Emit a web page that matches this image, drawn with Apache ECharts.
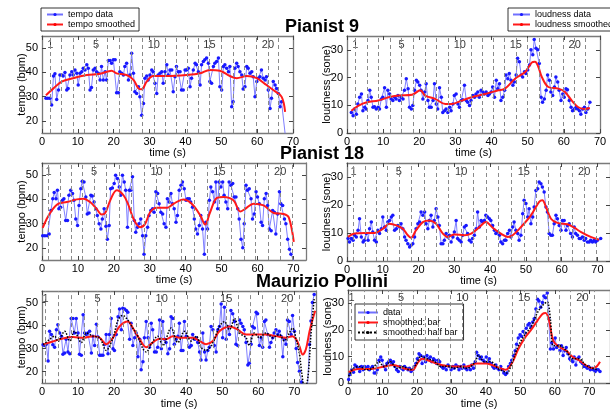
<!DOCTYPE html>
<html><head><meta charset="utf-8">
<script src="https://cdn.jsdelivr.net/npm/echarts@6/dist/echarts.min.js"></script>
<style>html,body{margin:0;padding:0;background:#fff}#c{width:610px;height:410px}</style>
</head><body><div id="c"></div>
<script>
// ---------------- DATA ----------------
const xTickValues = [0,10,20,30,40,50,60,70];
const tempoTicks = [20,30,40,50];
const loudTicks = [0,10,20,30];
const labeledBars = [1,5,10,15,20];

// bar-line times (s)
const p9Bars = [2.3,5.5,8.7,11.9,15.1,18.3,21.6,24.8,28.0,31.2,34.3,37.4,40.5,43.6,46.7,50.0,53.2,56.5,59.7,63.0,66.0];
const p18Bars = [1.8,5.0,8.1,11.3,14.5,18.0,21.5,24.9,28.4,31.9,35.4,38.9,42.4,45.9,49.4,52.8,56.2,59.5,62.9,66.3,69.7];
const pollBars = [1.0,4.6,8.2,11.8,15.4,19.0,22.5,26.1,29.6,33.2,36.8,40.4,43.9,47.5,51.1,54.5,57.8,61.2,64.6,68.0,71.4];

// Pianist 9
const p9TempoData = [[1.1,29.3],[1.6,29.3],[2.2,29.3],[2.7,26.5],[3.2,38.5],[3.6,39.4],[4.1,28.8],[4.6,32.7],[5.0,38.9],[5.5,38.9],[5.9,38.5],[6.4,39.9],[6.9,32.7],[7.3,33.4],[7.8,38.9],[8.3,40.3],[8.7,38.9],[9.2,41.0],[9.7,39.6],[10.1,34.8],[10.6,39.6],[11.1,40.3],[11.5,41.7],[12.0,41.0],[12.5,43.1],[12.9,41.7],[13.4,32.7],[13.8,33.8],[14.3,41.0],[14.8,41.7],[15.2,40.3],[15.7,39.6],[16.2,36.9],[16.6,42.4],[17.1,36.9],[17.6,40.3],[18.0,36.9],[18.5,44.9],[19.0,44.9],[19.4,43.8],[19.9,45.2],[20.4,45.2],[20.8,31.6],[21.3,31.6],[21.7,40.3],[22.2,39.6],[22.7,38.9],[23.1,42.4],[23.6,43.8],[24.1,36.9],[24.5,38.9],[25.0,47.9],[25.5,39.6],[25.9,32.0],[26.4,31.3],[26.9,34.1],[27.3,29.9],[27.8,22.3],[28.3,27.2],[28.7,37.6],[29.2,38.5],[29.6,36.9],[30.1,38.9],[30.6,41.0],[31.0,40.3],[31.5,35.5],[32.0,31.3],[32.4,38.9],[32.9,39.6],[33.4,40.3],[33.8,35.5],[34.3,40.3],[34.8,43.1],[35.2,38.9],[35.7,41.0],[36.2,41.0],[36.6,32.0],[37.1,38.2],[37.5,42.4],[38.0,40.3],[38.5,40.3],[38.9,32.7],[39.4,32.7],[39.9,41.0],[40.3,41.0],[40.8,41.7],[41.3,34.1],[41.7,37.6],[42.2,41.0],[42.7,43.8],[43.1,43.1],[43.6,40.3],[44.1,34.8],[44.5,43.1],[45.0,44.5],[45.4,45.2],[45.9,45.9],[46.4,43.8],[46.8,36.2],[47.3,35.5],[47.8,42.4],[48.2,43.8],[48.7,44.5],[49.2,45.9],[49.6,34.1],[50.1,32.7],[50.6,42.4],[51.0,43.1],[51.5,41.7],[52.0,40.3],[52.4,42.4],[52.9,25.8],[53.3,27.9],[53.8,41.7],[54.3,43.8],[54.7,42.4],[55.2,40.3],[55.7,38.9],[56.1,33.1],[56.6,34.1],[57.1,42.4],[57.5,41.7],[58.0,39.6],[58.5,40.3],[58.9,38.2],[59.4,29.9],[59.9,36.2],[60.3,37.6],[60.8,38.2],[61.2,41.0],[61.7,37.6],[62.2,36.9],[62.6,38.2],[63.1,32.7],[63.6,25.1],[64.0,29.3],[64.5,36.2],[65.0,34.8],[65.4,33.4],[65.9,31.3],[66.4,25.8],[66.8,27.9],[67.8,14.7]];
const p9TempoSmooth = [[1.1,30.6],[3.2,33.4],[5.5,36.2],[8.7,37.6],[12.5,38.9],[16.2,39.4],[19.4,40.7],[20.8,39.6],[23.6,38.9],[25.5,36.9],[26.9,33.4],[27.8,33.0],[29.2,36.2],[31.0,38.5],[34.8,38.5],[40.3,38.9],[44.1,39.6],[46.8,41.0],[49.6,40.7],[52.4,38.5],[54.3,37.6],[57.1,38.5],[59.9,37.6],[62.6,34.8],[64.5,32.7],[66.8,30.0],[67.8,23.7]];
const p9LoudData = [[1.2,7.4],[1.7,6.2],[2.1,8.7],[2.6,6.8],[3.0,10.5],[3.5,12.9],[4.0,14.1],[4.4,8.0],[4.9,9.3],[5.3,8.7],[5.8,11.7],[6.3,15.4],[6.7,12.9],[7.2,9.3],[7.6,9.5],[8.1,8.7],[8.6,9.3],[9.0,8.7],[9.5,12.3],[9.9,12.9],[10.4,16.3],[10.9,9.3],[11.3,15.4],[11.8,14.1],[12.2,12.3],[12.7,11.7],[13.2,12.9],[13.6,12.3],[14.1,13.5],[14.5,11.7],[15.0,12.9],[15.5,12.3],[15.9,15.4],[16.4,19.6],[16.9,16.0],[17.3,9.3],[17.8,8.7],[18.2,9.9],[18.7,15.4],[19.2,19.0],[19.6,18.4],[20.1,17.2],[20.5,15.4],[21.0,12.3],[21.5,14.8],[21.9,17.8],[22.4,11.7],[22.8,9.3],[23.3,9.3],[23.8,11.7],[24.2,17.8],[24.7,10.5],[25.1,8.7],[25.6,16.3],[26.1,12.9],[26.5,7.4],[27.0,8.0],[27.4,8.7],[27.9,7.4],[28.4,9.3],[28.8,8.0],[29.3,10.5],[29.7,13.5],[30.2,14.1],[30.7,10.5],[31.1,9.3],[31.6,11.7],[32.0,12.0],[32.5,17.2],[33.0,11.7],[33.4,11.1],[33.9,9.9],[34.3,11.7],[34.8,13.5],[35.3,12.9],[35.7,14.1],[36.2,14.8],[36.6,12.9],[37.1,15.4],[37.6,14.8],[38.0,14.1],[38.5,14.8],[39.0,13.5],[39.4,14.1],[39.9,14.8],[40.3,16.6],[40.8,12.9],[41.3,19.0],[41.7,16.0],[42.2,17.8],[42.6,11.7],[43.1,12.9],[43.6,15.4],[44.0,20.9],[44.5,19.6],[44.9,21.5],[45.4,19.0],[45.9,17.2],[46.3,18.4],[46.8,20.9],[47.2,27.0],[47.7,25.7],[48.2,20.9],[48.6,20.2],[49.1,22.1],[49.5,21.5],[50.0,22.7],[50.5,24.5],[50.9,30.0],[51.4,28.2],[51.8,33.7],[52.3,30.6],[52.8,30.0],[53.2,25.1],[53.7,12.9],[54.1,11.1],[54.6,12.3],[55.1,15.4],[55.5,20.9],[56.0,19.0],[56.4,14.8],[56.9,13.5],[57.4,16.6],[57.8,20.2],[58.3,18.4],[58.7,15.4],[59.2,11.7],[59.7,14.1],[60.1,12.9],[60.6,16.0],[61.0,15.6],[61.5,11.7],[62.0,9.3],[62.4,8.0],[62.9,8.7],[63.4,9.3],[63.8,8.7],[64.3,8.0],[64.7,6.8],[65.2,8.7],[65.7,9.3],[66.1,7.4],[66.6,8.7],[67.2,11.1]];
const p9LoudSmooth = [[1.2,8.0],[3.2,9.9],[5.5,11.1],[8.7,11.7],[11.5,12.9],[14.3,13.5],[18.0,13.8],[20.3,15.4],[21.6,13.5],[24.4,12.3],[27.2,10.5],[29.0,10.5],[31.8,11.7],[34.5,12.9],[38.2,14.1],[41.9,15.4],[43.7,16.0],[46.5,19.6],[49.3,22.0],[51.1,25.4],[52.0,25.7],[52.9,24.0],[53.9,20.2],[55.7,16.6],[58.5,16.0],[60.3,14.8],[62.2,11.7],[64.0,9.3],[65.8,8.7],[67.2,9.0]];

// Pianist 18
const p18TempoData = [[0.2,25.0],[0.8,25.0],[1.5,25.0],[2.0,25.7],[2.5,35.4],[3.0,40.3],[3.4,42.8],[3.9,40.3],[4.3,43.8],[4.7,36.1],[5.2,36.8],[5.7,39.6],[6.1,40.3],[6.6,31.3],[7.1,31.3],[7.5,41.7],[8.0,43.8],[8.5,42.4],[8.9,39.6],[9.4,31.9],[9.9,29.2],[10.3,37.5],[10.8,44.4],[11.2,47.5],[11.7,47.2],[12.2,41.0],[12.6,34.0],[13.1,34.4],[13.6,41.7],[14.0,41.4],[14.5,38.9],[15.0,36.1],[15.4,33.3],[15.9,29.9],[16.4,27.8],[16.8,31.9],[17.3,36.1],[17.8,28.9],[18.2,23.6],[18.7,29.2],[19.1,44.4],[19.6,44.7],[20.1,46.5],[20.5,50.0],[21.0,48.6],[21.5,45.1],[21.9,41.7],[22.4,50.0],[22.9,47.2],[23.3,43.8],[23.8,28.5],[24.3,43.8],[24.7,43.8],[25.2,49.3],[25.7,31.3],[26.1,26.4],[26.6,28.5],[27.0,29.9],[27.5,31.9],[28.0,25.0],[28.4,17.4],[28.9,25.0],[29.4,28.5],[29.8,33.3],[30.3,35.4],[30.8,36.1],[31.2,34.7],[31.7,43.1],[32.2,42.4],[32.6,38.2],[33.1,34.7],[33.6,34.0],[34.0,29.9],[34.5,28.5],[34.9,40.3],[35.4,38.9],[35.9,42.4],[36.3,38.2],[36.8,36.1],[37.3,30.6],[37.7,33.3],[38.2,43.8],[38.7,45.8],[39.1,47.2],[39.6,44.4],[40.1,39.6],[40.5,40.3],[41.0,40.3],[41.4,38.9],[41.9,36.8],[42.4,31.9],[42.8,27.8],[43.3,25.7],[43.8,29.2],[44.2,33.3],[44.7,27.8],[45.2,17.4],[45.6,30.6],[46.1,27.8],[46.6,39.6],[47.0,45.1],[47.5,43.1],[48.0,38.9],[48.4,47.2],[48.9,36.1],[49.3,47.2],[49.8,45.1],[50.3,47.2],[50.7,41.7],[51.2,38.9],[51.7,36.1],[52.1,47.2],[52.6,45.8],[53.1,46.5],[53.5,41.0],[54.0,41.0],[54.5,36.1],[54.9,31.9],[55.4,23.6],[55.9,20.1],[56.3,29.9],[56.8,45.8],[57.2,43.8],[57.7,44.4],[58.2,40.3],[58.6,31.9],[59.1,34.0],[59.6,43.1],[60.0,41.0],[60.5,38.2],[61.0,30.6],[61.4,29.2],[61.9,40.3],[62.4,42.4],[62.8,37.5],[63.3,27.8],[63.8,27.1],[64.2,35.4],[64.7,34.7],[65.1,25.7],[65.6,34.0],[66.1,43.1],[66.5,38.2],[67.0,37.5],[67.5,31.9],[67.9,29.9],[68.4,23.6],[68.9,19.4],[69.3,17.4],[70.1,14.6]];
const p18TempoSmooth = [[0.2,28.2],[1.3,31.9],[2.7,35.4],[4.6,38.2],[6.9,38.9],[9.7,40.0],[11.5,40.3],[13.4,38.9],[15.2,36.1],[16.6,33.8],[17.6,34.4],[19.0,39.6],[20.8,43.8],[22.7,41.7],[24.1,37.5],[25.5,31.9],[27.3,28.5],[28.7,29.9],[30.1,34.7],[32.0,36.5],[34.8,36.5],[36.6,38.2],[39.4,40.0],[41.7,38.2],[44.1,33.3],[45.4,29.6],[46.8,34.7],[48.7,40.6],[50.6,41.0],[53.3,39.6],[55.2,35.0],[56.6,36.1],[58.9,38.2],[61.7,37.5],[64.5,34.4],[67.3,34.0],[68.7,32.6],[70.1,22.5]];
const p18LoudData = [[0.3,8.0],[0.7,6.8],[1.2,8.0],[1.7,7.4],[2.1,9.2],[2.6,8.6],[3.1,11.0],[3.5,15.1],[4.0,8.6],[4.5,6.8],[4.9,7.4],[5.4,9.8],[5.9,7.4],[6.3,11.5],[6.8,13.9],[7.2,10.4],[7.7,7.4],[8.2,6.8],[8.6,11.0],[9.1,9.8],[9.6,11.5],[10.0,15.7],[10.5,12.1],[11.0,11.0],[11.4,13.9],[11.9,14.5],[12.4,15.7],[12.8,16.3],[13.3,11.0],[13.8,11.5],[14.2,12.7],[14.7,12.1],[15.1,13.3],[15.6,11.5],[16.1,8.6],[16.5,7.4],[17.0,6.2],[17.5,5.0],[17.9,5.6],[18.4,6.2],[18.9,8.6],[19.3,11.5],[19.8,13.3],[20.3,13.9],[20.7,17.5],[21.2,16.3],[21.7,17.5],[22.1,13.3],[22.6,11.5],[23.0,14.5],[23.5,16.3],[24.0,12.1],[24.4,14.5],[24.9,18.7],[25.4,15.7],[25.8,12.7],[26.3,6.2],[26.8,6.2],[27.2,7.4],[27.7,9.8],[28.2,8.6],[28.6,9.2],[29.1,6.8],[29.6,8.6],[30.0,10.4],[30.5,14.5],[30.9,8.0],[31.4,7.4],[31.9,6.8],[32.3,9.2],[32.8,12.1],[33.3,12.7],[33.7,9.8],[34.2,7.4],[34.7,6.8],[35.1,8.0],[35.6,9.2],[36.1,11.5],[36.5,17.5],[37.0,12.1],[37.5,14.5],[37.9,13.9],[38.4,14.5],[38.8,16.3],[39.3,15.7],[39.8,15.1],[40.2,14.5],[40.7,12.7],[41.2,11.0],[41.6,9.8],[42.1,10.4],[42.6,9.2],[43.0,6.8],[43.5,6.2],[44.0,7.4],[44.4,7.4],[44.9,9.8],[45.4,11.0],[45.8,8.6],[46.3,12.1],[46.7,13.9],[47.2,11.0],[47.7,9.8],[48.1,7.4],[48.6,9.2],[49.1,16.9],[49.5,21.7],[50.0,20.5],[50.5,15.7],[50.9,18.7],[51.4,13.3],[51.9,15.7],[52.3,19.3],[52.8,25.2],[53.3,25.8],[53.7,28.2],[54.2,27.6],[54.6,26.4],[55.1,24.6],[55.6,19.3],[56.0,17.5],[56.5,9.8],[57.0,9.2],[57.4,9.2],[57.9,13.3],[58.4,16.3],[58.8,15.1],[59.3,12.7],[59.8,11.0],[60.2,14.5],[60.7,14.5],[61.2,11.0],[61.6,12.7],[62.1,13.3],[62.5,9.8],[63.0,8.6],[63.5,12.1],[63.9,9.8],[64.4,9.2],[64.9,8.0],[65.3,8.0],[65.8,8.6],[66.3,7.4],[66.7,8.0],[67.2,6.8],[67.7,6.8],[68.1,7.4],[68.6,6.8],[69.1,7.4],[69.5,6.8],[70.0,7.4],[70.9,8.0]];
const p18LoudSmooth = [[0.3,8.6],[2.1,9.8],[4.9,10.0],[7.7,10.0],[10.0,11.5],[11.9,13.3],[13.8,12.7],[15.6,11.5],[17.0,9.2],[17.9,8.3],[19.3,11.0],[21.2,13.9],[23.0,14.5],[24.9,13.3],[26.8,9.8],[28.2,8.6],[30.0,9.5],[32.8,9.2],[34.7,9.8],[37.0,12.1],[38.8,13.9],[40.7,11.9],[43.0,9.8],[44.9,8.6],[46.3,9.2],[48.6,12.1],[51.4,16.3],[53.7,21.1],[54.6,21.7],[55.6,19.3],[57.0,15.1],[58.8,13.6],[61.6,13.1],[63.5,11.9],[65.3,10.4],[68.1,8.6],[70.4,7.6]];

// Maurizio Pollini
const pollTempoData = [[0.3,31.7],[0.7,31.3],[1.2,31.9],[1.7,24.6],[2.1,37.5],[2.6,36.1],[3.0,31.7],[3.5,30.6],[4.0,38.2],[4.4,40.3],[4.9,36.8],[5.4,35.4],[5.8,27.5],[6.3,28.1],[6.7,34.0],[7.2,28.5],[7.7,27.8],[8.1,43.1],[8.6,43.1],[9.0,36.8],[9.5,43.1],[10.0,36.8],[10.4,27.5],[10.9,27.1],[11.4,44.7],[11.8,36.8],[12.3,36.1],[12.7,36.8],[13.2,37.5],[13.7,28.1],[14.1,35.4],[14.6,31.3],[15.1,40.6],[15.5,35.0],[16.0,27.1],[16.4,27.1],[16.9,27.1],[17.4,31.9],[17.8,36.1],[18.3,27.8],[18.7,36.1],[19.2,43.1],[19.7,29.9],[20.1,29.2],[20.6,36.1],[21.1,43.8],[21.5,47.2],[22.0,38.2],[22.4,47.5],[22.9,47.2],[23.4,46.5],[23.8,45.8],[24.3,34.0],[24.7,41.0],[25.2,31.3],[25.7,34.7],[26.1,36.8],[26.6,26.4],[27.1,34.0],[27.5,20.8],[28.0,24.3],[28.4,34.7],[28.9,41.7],[29.4,34.7],[29.8,30.6],[30.3,41.0],[30.7,38.2],[31.2,28.5],[31.7,28.5],[32.1,30.6],[32.6,42.4],[33.1,29.9],[33.5,41.7],[34.0,34.0],[34.4,32.6],[34.9,27.8],[35.4,29.9],[35.8,43.8],[36.3,43.1],[36.7,31.9],[37.2,34.0],[37.7,35.4],[38.1,41.0],[38.6,29.2],[39.1,29.2],[39.5,41.7],[40.0,35.4],[40.4,34.7],[40.9,30.6],[41.4,31.3],[41.8,36.1],[42.3,34.0],[42.8,34.7],[43.2,32.6],[43.7,28.5],[44.1,25.0],[44.6,36.8],[45.1,28.5],[45.5,25.0],[46.0,29.2],[46.4,30.6],[46.9,39.6],[47.4,38.2],[47.8,31.3],[48.3,28.5],[48.8,38.2],[49.2,39.6],[49.7,49.3],[50.1,34.7],[50.6,47.9],[51.1,34.0],[51.5,39.6],[52.0,36.1],[52.4,46.5],[52.9,45.1],[53.4,41.7],[53.8,31.9],[54.3,31.3],[54.8,42.4],[55.2,41.0],[55.7,39.6],[56.1,38.2],[56.6,32.6],[57.1,22.9],[57.5,23.6],[58.0,31.9],[58.4,39.6],[58.9,38.9],[59.4,45.8],[59.8,45.1],[60.3,31.3],[60.8,34.7],[61.2,30.6],[61.7,41.7],[62.1,42.4],[62.6,36.1],[63.1,30.6],[63.5,32.6],[64.0,34.7],[64.4,36.8],[64.9,38.2],[65.4,36.1],[65.8,37.5],[66.3,35.4],[66.8,26.4],[67.2,34.0],[67.7,31.9],[68.1,42.4],[68.6,41.7],[69.1,36.1],[69.5,44.4],[70.0,37.5],[70.5,30.0],[70.9,24.0],[71.4,20.1],[72.0,15.5],[72.8,12.0],[73.6,12.0],[74.2,31.8],[74.6,42.0],[75.0,50.0],[75.5,53.5]];
const pollTempoBar = [[0.3,31.7],[3.0,33.1],[5.8,34.4],[8.6,35.0],[11.4,34.7],[14.1,35.4],[16.0,34.7],[17.8,31.9],[19.7,34.7],[21.5,39.6],[23.8,41.7],[25.2,38.9],[27.1,34.0],[28.9,30.6],[30.7,32.6],[32.6,34.3],[34.4,34.0],[36.3,35.4],[38.1,34.7],[41.8,34.7],[43.7,33.3],[45.5,31.9],[47.4,33.3],[49.2,37.5],[52.0,39.6],[54.3,38.2],[56.6,36.1],[59.4,36.1],[62.1,36.1],[64.9,35.4],[67.7,34.7],[69.5,35.4],[70.5,34.0],[71.4,31.0],[72.3,27.4],[73.2,29.7],[74.2,37.4],[75.1,42.9],[75.8,46.4]];
const pollTempoHalf = [[0.3,31.7],[2.1,34.0],[3.5,35.4],[4.4,33.1],[6.3,37.5],[7.7,33.3],[9.0,37.5],[10.9,32.6],[12.3,36.8],[14.1,35.4],[16.0,34.7],[17.8,29.2],[19.7,34.7],[21.1,42.4],[22.4,44.4],[23.8,42.4],[25.2,38.9],[26.6,35.4],[28.0,29.9],[28.9,28.5],[30.3,31.9],[32.1,35.4],[33.5,31.3],[35.8,38.9],[37.7,32.6],[39.5,37.5],[41.4,33.3],[42.8,35.4],[44.1,30.6],[45.5,29.2],[47.4,32.6],[49.2,39.6],[50.6,41.7],[52.0,38.2],[53.4,43.1],[54.8,36.8],[56.6,34.7],[57.5,31.3],[58.9,36.8],[60.3,34.7],[62.1,36.8],[64.0,34.7],[65.8,36.1],[67.2,33.3],[68.6,36.8],[69.5,38.9],[70.5,34.0],[71.4,27.8],[72.0,20.0],[72.9,12.0],[73.8,18.0],[74.6,36.0],[75.5,52.0]];
const pollLoudData = [[0.2,1.4],[0.6,3.2],[1.1,5.0],[1.6,4.1],[2.0,6.8],[2.5,6.2],[3.0,5.6],[3.4,4.4],[3.9,6.2],[4.4,5.0],[4.8,6.2],[5.3,5.6],[5.8,6.2],[6.2,5.0],[6.7,5.6],[7.1,6.2],[7.6,3.8],[8.1,3.8],[8.5,5.0],[9.0,8.6],[9.5,9.8],[9.9,8.6],[10.4,6.2],[10.9,5.0],[11.3,7.4],[11.8,8.0],[12.3,8.6],[12.7,7.4],[13.2,8.0],[13.6,6.2],[14.1,5.0],[14.6,4.4],[15.0,6.2],[15.5,5.6],[16.0,5.0],[16.4,6.2],[16.9,5.6],[17.4,5.0],[17.8,5.6],[18.3,4.4],[18.8,5.0],[19.2,6.2],[19.7,7.4],[20.1,9.2],[20.6,11.0],[21.1,10.4],[21.5,7.4],[22.0,9.8],[22.5,8.0],[22.9,10.4],[23.4,9.2],[23.9,9.8],[24.3,8.0],[24.8,9.2],[25.3,8.6],[25.7,7.4],[26.2,8.6],[26.6,8.0],[27.1,6.2],[27.6,5.6],[28.0,6.2],[28.5,5.0],[29.0,6.8],[29.4,6.2],[29.9,5.0],[30.4,6.2],[30.8,5.6],[31.3,6.8],[31.8,6.2],[32.2,5.0],[32.7,6.2],[33.1,5.6],[33.6,6.8],[34.1,5.6],[34.5,5.0],[35.0,6.2],[35.5,5.0],[35.9,6.8],[36.4,5.6],[36.9,8.0],[37.3,11.6],[37.8,10.4],[38.3,9.2],[38.7,9.8],[39.2,8.6],[39.6,8.0],[40.1,9.8],[40.6,8.0],[41.0,9.2],[41.5,7.4],[42.0,6.2],[42.4,5.6],[42.9,6.8],[43.4,5.6],[43.8,5.0],[44.3,6.2],[44.8,5.0],[45.2,3.8],[45.7,3.2],[46.1,3.8],[46.6,6.2],[47.1,7.4],[47.5,8.6],[48.0,10.4],[48.5,12.2],[48.9,14.6],[49.4,17.0],[49.9,18.2],[50.3,17.6],[50.8,19.4],[51.3,18.8],[51.7,20.6],[52.2,21.8],[52.6,22.4],[53.1,21.2],[53.6,23.0],[54.0,24.2],[54.5,27.9],[55.0,31.5],[55.4,30.9],[55.9,28.5],[56.4,30.3],[56.8,32.7],[57.3,32.1],[57.8,33.9],[58.2,24.2],[58.7,12.8],[59.1,15.2],[59.6,12.8],[60.1,17.0],[60.5,13.4],[61.0,14.0],[61.5,12.2],[61.9,14.0],[62.4,10.4],[62.9,12.2],[63.3,13.4],[63.8,11.0],[64.3,9.2],[64.7,8.6],[65.2,8.0],[65.6,9.8],[66.1,6.8],[66.6,9.2],[67.0,9.8],[67.5,8.0],[68.0,7.4],[68.4,6.2],[68.9,6.2],[69.4,5.6],[69.8,6.2],[70.3,5.0],[70.8,5.6],[71.2,5.0],[71.7,4.4],[72.1,5.0],[72.6,5.0],[73.1,4.4]];
const pollLoudBar = [[0.2,4.1],[3.0,5.3],[6.7,5.3],[10.4,6.2],[13.2,6.8],[16.0,5.6],[18.8,5.0],[20.1,7.4],[21.5,9.2],[24.3,8.0],[27.1,6.8],[30.8,6.2],[34.5,6.2],[37.3,7.4],[40.1,7.4],[42.9,6.2],[45.7,5.0],[47.5,7.4],[49.4,12.8],[51.3,17.0],[53.1,20.0],[55.0,23.6],[56.4,26.0],[57.3,26.4],[58.2,24.2],[59.6,15.8],[61.5,13.4],[63.3,12.2],[65.2,9.8],[67.0,8.6],[68.9,6.8],[70.8,5.6],[72.1,6.2],[73.1,8.0]];
const pollLoudHalf = [[0.2,2.6],[1.6,5.6],[3.4,6.2],[5.3,5.0],[7.1,5.6],[9.0,8.0],[10.4,6.2],[12.3,8.0],[14.1,5.6],[16.0,6.2],[17.8,5.0],[19.7,6.8],[21.1,10.1],[22.9,9.2],[24.8,8.4],[27.1,6.2],[29.0,6.4],[30.8,5.6],[32.7,6.2],[34.5,5.6],[36.9,8.0],[37.8,10.4],[39.6,8.0],[41.5,8.0],[43.4,5.6],[45.2,4.4],[46.1,3.8],[47.5,7.4],[49.4,14.0],[51.3,18.2],[53.1,21.2],[55.0,26.6],[56.8,29.7],[57.8,30.5],[58.7,24.2],[59.6,14.0],[61.5,14.0],[63.3,12.2],[65.2,9.2],[67.0,9.2],[68.9,6.8],[70.8,5.6],[72.6,5.0]];

// ---------------- LAYOUT ----------------
const FONT = '"Liberation Sans", Arial, Helvetica, sans-serif';
const panels = [
  {grid:{left:42,top:36,width:251,height:97}, xMax:70, yMin:15, yMax:55, yTicks:tempoTicks, yName:'tempo (bpm)', bars:p9Bars,
   data:p9TempoData, bar:p9TempoSmooth, half:null, names:['tempo data','tempo smoothed']},
  {grid:{left:347,top:36,width:253,height:97}, xMax:70, yMin:0, yMax:35, yTicks:loudTicks, yName:'loudness (sone)', bars:p9Bars,
   data:p9LoudData, bar:p9LoudSmooth, half:null, names:['loudness data','loudness smoothed']},
  {grid:{left:42,top:163,width:264,height:97}, xMax:73.5, yMin:15, yMax:55, yTicks:tempoTicks, yName:'tempo (bpm)', bars:p18Bars,
   data:p18TempoData, bar:p18TempoSmooth, half:null, names:['p18 tempo data','p18 tempo smoothed']},
  {grid:{left:347,top:163,width:264,height:98}, xMax:73.5, yMin:0, yMax:35, yTicks:loudTicks, yName:'loudness (sone)', bars:p18Bars,
   data:p18LoudData, bar:p18LoudSmooth, half:null, names:['p18 loudness data','p18 loudness smoothed']},
  {grid:{left:42,top:291,width:274,height:96}, xMax:76, yMin:15, yMax:55, yTicks:tempoTicks, yName:'tempo (bpm)', bars:pollBars,
   data:pollTempoData, bar:pollTempoBar, half:pollTempoHalf, names:['mp tempo data','mp smoothed bar','mp smoothed half']},
  {grid:{left:348,top:290,width:273,height:97}, xMax:76, yMin:0, yMax:35, yTicks:loudTicks, yName:'loudness (sone)', bars:pollBars,
   data:pollLoudData, bar:pollLoudBar, half:pollLoudHalf, names:['data','smoothed: bar','smoothed: half bar']}
];

const grids=[], xAxes=[], yAxes=[], series=[];
const boxLine = {show:true, onZero:false, lineStyle:{color:'#7a7a7a', width:1.3}};
panels.forEach((p,i)=>{
  grids.push(Object.assign({containLabel:false}, p.grid));
  const tick = (vals)=>({show:true, inside:true, length:4, customValues:vals, lineStyle:{color:'#444', width:1}});
  xAxes.push({type:'value', gridIndex:i, min:0, max:p.xMax, position:'bottom', axisLine:boxLine,
    axisTick:tick(xTickValues), axisLabel:{customValues:xTickValues, color:'#000', fontSize:11, margin:3, fontFamily:FONT},
    splitLine:{show:false}, name:'time (s)', nameLocation:'middle', nameGap:14,
    nameTextStyle:{color:'#000', fontSize:11, fontFamily:FONT}});
  xAxes.push({type:'value', gridIndex:i, min:0, max:p.xMax, position:'top', axisLine:boxLine,
    axisTick:tick(xTickValues), axisLabel:{show:false}, splitLine:{show:false}});
  yAxes.push({type:'value', gridIndex:i, min:p.yMin, max:p.yMax, position:'left', axisLine:boxLine,
    axisTick:tick(p.yTicks), axisLabel:{customValues:p.yTicks, color:'#000', fontSize:11, margin:4, fontFamily:FONT},
    splitLine:{show:false}, name:p.yName, nameLocation:'middle', nameGap:15, nameRotate:90, nameMoveOverlap:false,
    nameTextStyle:{color:'#000', fontSize:11, fontFamily:FONT}});
  yAxes.push({type:'value', gridIndex:i, min:p.yMin, max:p.yMax, position:'right', axisLine:boxLine,
    axisTick:tick(p.yTicks), axisLabel:{show:false}, splitLine:{show:false}});

  const xi = 2*i, yi = 2*i;
  const labelY = p.yMax - (p.yMax - p.yMin) * 8.5 / p.grid.height;
  series.push({type:'scatter', xAxisIndex:xi, yAxisIndex:yi, silent:true, z:1, symbolSize:0,
    data: labeledBars.map(n=>[p.bars[n-1], labelY, n]),
    label:{show:true, position:'inside', formatter:(q)=>String(q.data[2]), color:'#000', fontSize:11, fontFamily:FONT},
    markLine:{silent:true, symbol:['none','none'], animation:false, label:{show:false},
      lineStyle:{type:[4,3], color:'#8a8a8a', width:1},
      data: p.bars.map(t=>({xAxis:t}))}});
  series.push({type:'line', name:p.names[0], xAxisIndex:xi, yAxisIndex:yi, data:p.data, z:2, clip:true,
    symbol:'circle', symbolSize:3.5, showSymbol:true,
    itemStyle:{color:'#1818ff'}, lineStyle:{color:'#7070ff', width:0.9}});
  series.push({type:'line', name:p.names[1], xAxisIndex:xi, yAxisIndex:yi, data:p.bar, z:3, clip:true,
    smooth:0.35, symbol:'none', itemStyle:{color:'#ff0000'}, lineStyle:{color:'#ff1a1a', width:2}});
  if (p.half) {
    series.push({type:'line', name:p.names[2], xAxisIndex:xi, yAxisIndex:yi, data:p.half, z:4, clip:true,
      smooth:0.35, symbol:'none', itemStyle:{color:'#000'}, lineStyle:{color:'#000', width:1.5, type:'dotted'}});
  }
});

const legendBase = {orient:'vertical', backgroundColor:'#fff', borderColor:'#000', borderWidth:0.8,
  padding:[2,4,2,5], itemGap:1, itemWidth:16, itemHeight:4, selectedMode:false,
  textStyle:{color:'#000', fontSize:9, fontFamily:FONT}};
const legends = [
  Object.assign({}, legendBase, {data:['tempo data','tempo smoothed'], left:41, top:8}),
  Object.assign({}, legendBase, {data:['loudness data','loudness smoothed'], left:508, top:8, padding:[2,4,2,4], itemWidth:17}),
  Object.assign({}, legendBase, {data:['data','smoothed: bar','smoothed: half bar'], left:355, top:304, padding:[4,6,3,2], itemWidth:20, itemGap:1})
];

const titleStyle = {color:'#000', fontSize:18, fontWeight:'bold', fontFamily:FONT};
const titles = [
  {text:'Pianist 9', left:322, top:18, textAlign:'center', padding:0, textStyle:titleStyle},
  {text:'Pianist 18', left:322, top:145, textAlign:'center', padding:0, textStyle:titleStyle},
  {text:'Maurizio Pollini', left:322, top:273, textAlign:'center', padding:0, textStyle:titleStyle}
];

const chart = echarts.init(document.getElementById('c'), null, {renderer:'canvas'});
chart.setOption({
  animation:false,
  backgroundColor:'#fff',
  textStyle:{fontFamily:FONT},
  title:titles,
  legend:legends,
  grid:grids,
  xAxis:xAxes,
  yAxis:yAxes,
  series:series
});
</script></body></html>
